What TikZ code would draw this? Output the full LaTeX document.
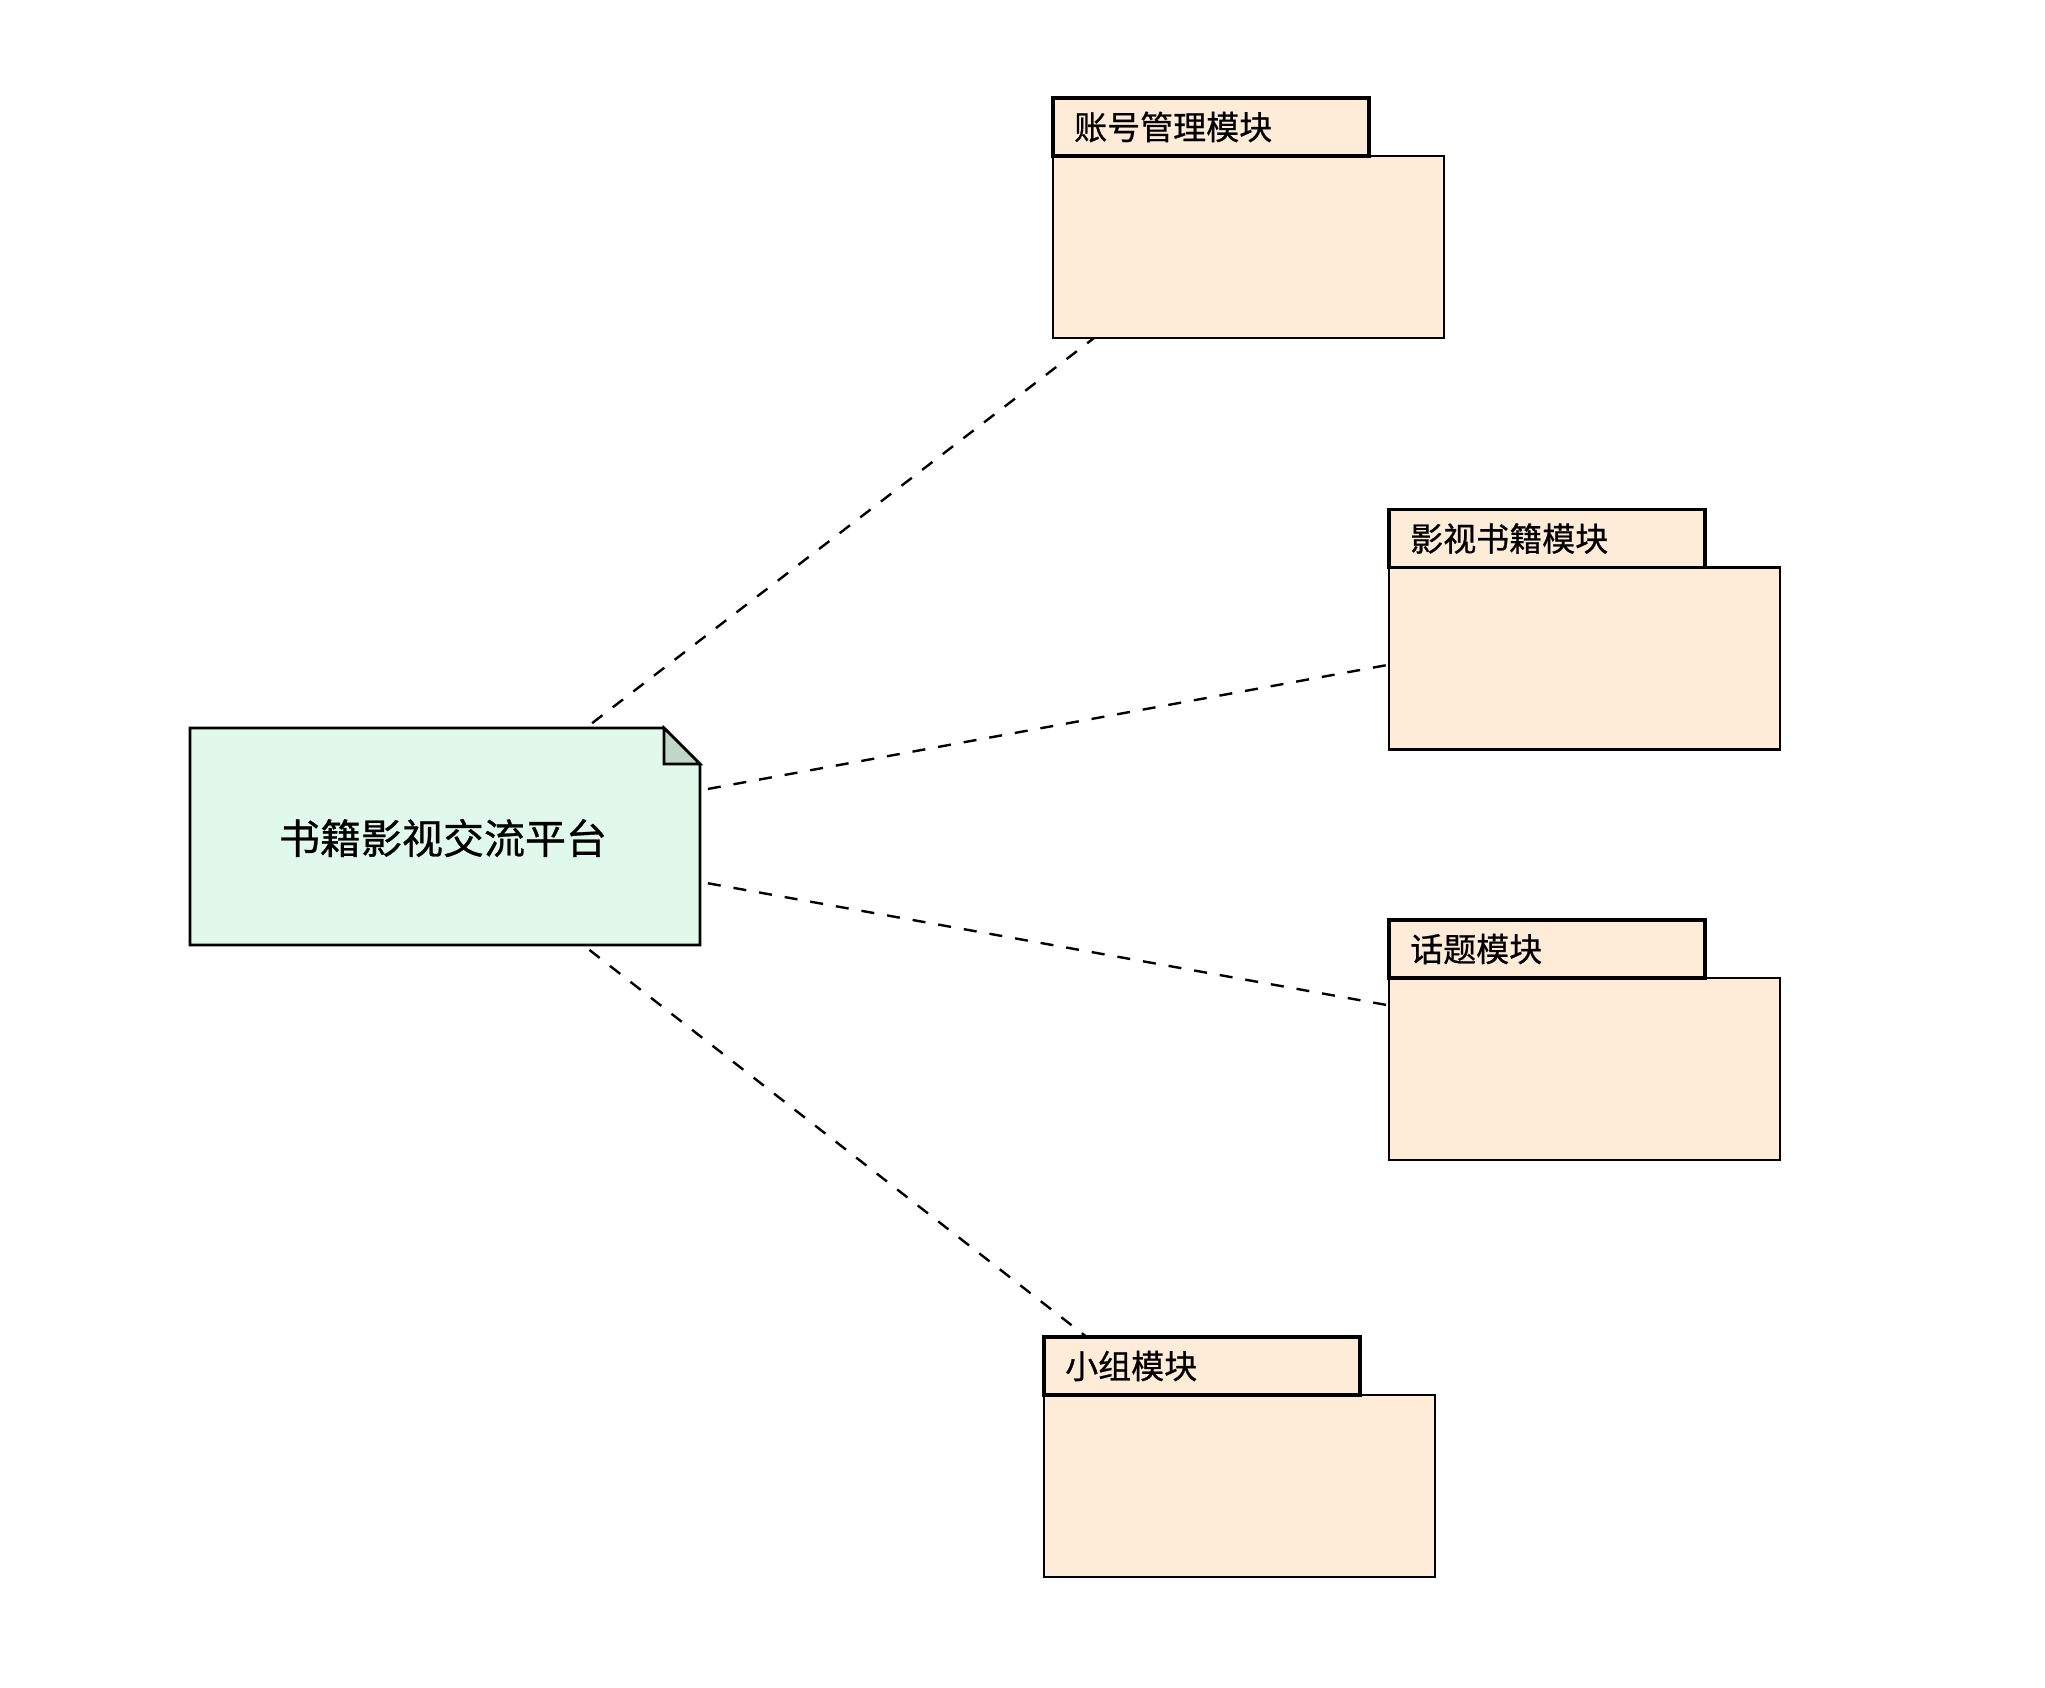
\documentclass[tikz,border=0pt]{standalone}
\usepackage{fontspec}
\setmainfont{Noto Sans CJK SC}[FakeBold=0.7]
\usetikzlibrary{calc}
\definecolor{pkgfill}{HTML}{FEEBD8}
\definecolor{notefill}{HTML}{E1F9EA}
\definecolor{foldfill}{HTML}{C0D7C7}
\tikzset{
  pkgbox/.style={rectangle, draw=none, inner sep=0pt, outer sep=0pt, minimum width=391pt, minimum height=240pt},
  notebox/.style={rectangle, draw=none, inner sep=0pt, outer sep=0pt, minimum width=510pt, minimum height=217pt, font=\fontsize{41}{48}\selectfont},
  pkgline/.style={draw=black, fill=pkgfill, line width=2.8pt},
  tabline/.style={draw=black, fill=pkgfill, line width=3.2pt},
  pkglabel/.style={anchor=west, inner sep=0pt, font=\fontsize{33}{40}\selectfont},
  conn/.style={draw=black, line width=2.4pt, dash pattern=on 13pt off 13pt, shorten <=8pt},
}
\newcommand{\umlpkg}[3]{%
  \path[pkgline] ($(#1.north west)+(0,58)$) rectangle (#1.south east);
  \path[tabline] (#1.north west) rectangle ($(#1.north west)+(316,58)$);
  \node[pkglabel] (#2) at ($(#1.north west)+(21,29)$) {#3};
}
\begin{document}
\begin{tikzpicture}[x=1pt,y=-1pt]
\useasboundingbox[fill=white] (0,0) rectangle (2045,1687);
% note
\node[notebox] (note) at (445,836.5) {};
\path[draw=black, fill=notefill, line width=2.8pt]
  (note.north west) -- ($(note.north east)+(-36,0)$) -- ($(note.north east)+(0,36)$)
  -- (note.south east) -- (note.south west) -- cycle;
\path[draw=black, fill=foldfill, line width=2.8pt, line join=miter]
  ($(note.north east)+(-36,0)$) -- ($(note.north east)+(-36,36)$) -- ($(note.north east)+(0,36)$) -- cycle;
\node[inner sep=0pt, font=\fontsize{41}{48}\selectfont] (notetext) at (443,838) {书籍影视交流平台};
% packages
\node[pkgbox] (p1) at (1248.5,218) {};
\node[pkgbox] (p2) at (1584.5,629.5) {};
\node[pkgbox] (p3) at (1584.5,1040) {};
\node[pkgbox] (p4) at (1239.5,1457) {};
\umlpkg{p1}{l1}{账号管理模块}
\umlpkg{p2}{l2}{影视书籍模块}
\umlpkg{p3}{l3}{话题模块}
\umlpkg{p4}{l4}{小组模块}
% connectors
\draw[conn] (note) -- (p1);
\draw[conn] (note) -- (p2);
\draw[conn] (note) -- (p3);
\draw[conn] (note) -- (p4);
\end{tikzpicture}
\end{document}
